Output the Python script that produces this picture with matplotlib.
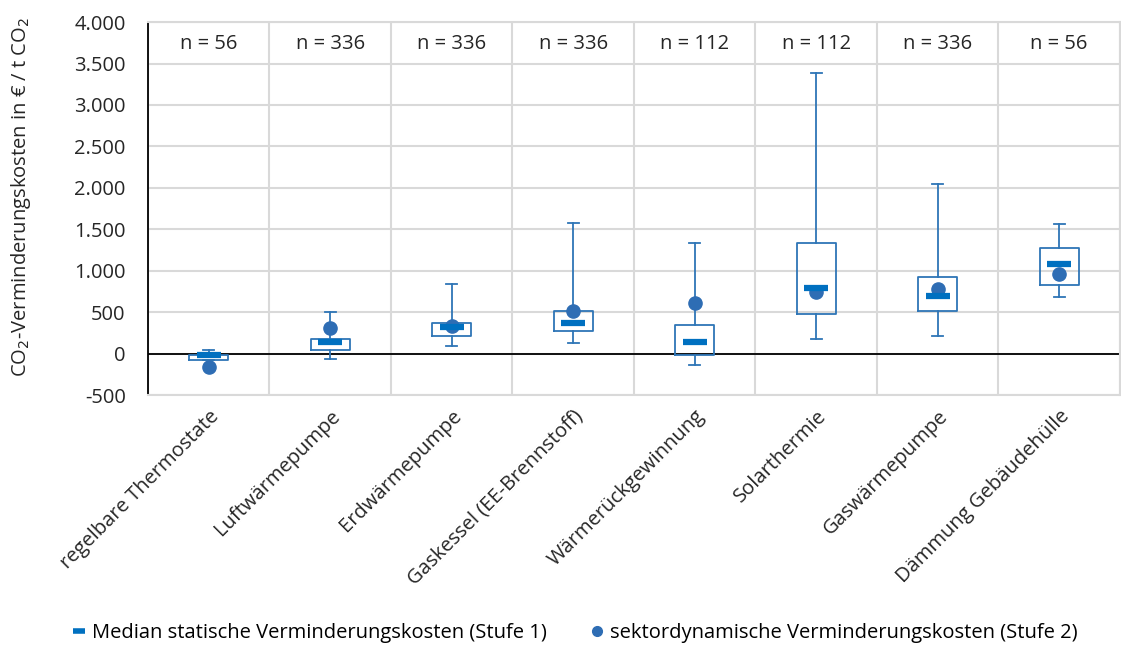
'''
Box plot of CO2 abatement costs per heating measure.
'''
import matplotlib.pyplot as plt
from matplotlib.lines import Line2D
from matplotlib.ticker import FuncFormatter

# Categories and sample counts
categories = ["regelbare Thermostate", "Luftwärmepumpe", "Erdwärmepumpe",
              "Gaskessel (EE-Brennstoff)", "Wärmerückgewinnung", "Solarthermie",
              "Gaswärmepumpe", "Dämmung Gebäudehülle"]
sample_counts = [56, 336, 336, 336, 112, 112, 336, 56]

# Box statistics (EUR / t CO2)
whisker_low = [-70, -60, 100, 135, -130, 175, 215, 680]
quartile_1 = [-70, 40, 215, 275, -15, 485, 520, 830]
median_static = [-20, 145, 320, 370, 140, 795, 700, 1085]
quartile_3 = [-10, 180, 370, 520, 350, 1330, 930, 1270]
whisker_high = [40, 500, 845, 1580, 1335, 3390, 2045, 1560]

# Sector-dynamic abatement costs (stage 2)
sector_dynamic = [-160, 310, 340, 515, 610, 745, 785, 960]

box_color = "#2E75B6"
median_color = "#0070C0"
dot_color = "#2E6DB4"
grid_color = "#D9D9D9"
text_color = "#262626"
font_size = 14.5

plt.rcParams["font.family"] = ["Open Sans", "DejaVu Sans"]

fig = plt.figure(figsize=(11.21, 6.48), dpi=100)
ax = fig.add_axes([0.132, 0.390, 0.867, 0.576])

positions = list(range(1, len(categories) + 1))
stats = []
for i in range(len(categories)):
  stats.append({
    "whislo": whisker_low[i], "q1": quartile_1[i], "med": median_static[i],
    "q3": quartile_3[i], "whishi": whisker_high[i], "fliers": [],
  })

ax.bxp(stats, positions=positions, widths=0.32, capwidths=0.09,
       showfliers=False,
       boxprops=dict(color=box_color, linewidth=1.3),
       whiskerprops=dict(color=box_color, linewidth=1.3),
       capprops=dict(color=box_color, linewidth=1.3),
       medianprops=dict(visible=False),
       manage_ticks=False, zorder=3)

ax.plot(positions, sector_dynamic, ls="none", marker="o", ms=9.5,
        color=dot_color, zorder=4)
ax.plot(positions, median_static, ls="none", marker="_", ms=17, mew=4.5,
        color=median_color, zorder=5)

# n labels
for pos, n in zip(positions, sample_counts):
  ax.text(pos, 3730, f"n = {n}", ha="center", va="center", fontsize=font_size,
          color=text_color)

# Axes, grid and ticks
ax.set_xlim(0.5, len(categories) + 0.5)
ax.set_ylim(-500, 4000)
ax.set_yticks(range(-500, 4001, 500))
ax.yaxis.set_major_formatter(
  FuncFormatter(lambda v, _: f"{int(v):,}".replace(",", ".")))
ax.set_xticks(positions)
ax.set_xticklabels(categories, rotation=45, ha="right", rotation_mode="anchor")
ax.set_xticks([p + 0.5 for p in range(len(categories) + 1)], minor=True)
ax.grid(True, axis="y", which="major", color=grid_color, linewidth=1.5, zorder=0)
ax.grid(True, axis="x", which="minor", color=grid_color, linewidth=1.5, zorder=0)
ax.set_axisbelow(True)
ax.axhline(0, color="black", linewidth=1.3, zorder=2)
ax.tick_params(axis="both", which="both", length=0, labelsize=font_size,
               colors=text_color)
ax.tick_params(axis="x", pad=8)
ax.tick_params(axis="y", pad=16)
for side in ["top", "right", "bottom"]:
  ax.spines[side].set_color(grid_color)
  ax.spines[side].set_linewidth(1.5)
ax.spines["left"].set_color("black")
ax.spines["left"].set_linewidth(1.3)

ax.set_ylabel(r"CO$_2$-Verminderungskosten in € / t CO$_2$", fontsize=font_size,
              color=text_color)
ax.yaxis.set_label_coords(-0.118, 0.53)

# Legend
handles = [
  Line2D([], [], ls="none", marker="_", ms=9, mew=4, color=median_color),
  Line2D([], [], ls="none", marker="o", ms=7, color=dot_color),
]
labels = ["Median statische Verminderungskosten (Stufe 1)",
          "sektordynamische Verminderungskosten (Stufe 2)"]
fig.legend(handles, labels, loc="center", bbox_to_anchor=(0.513, 0.023),
           ncol=2, frameon=False, fontsize=font_size, handlelength=0.6,
           handletextpad=0.35, columnspacing=2.2, borderpad=0)

fig.savefig("out.png", dpi=100)
